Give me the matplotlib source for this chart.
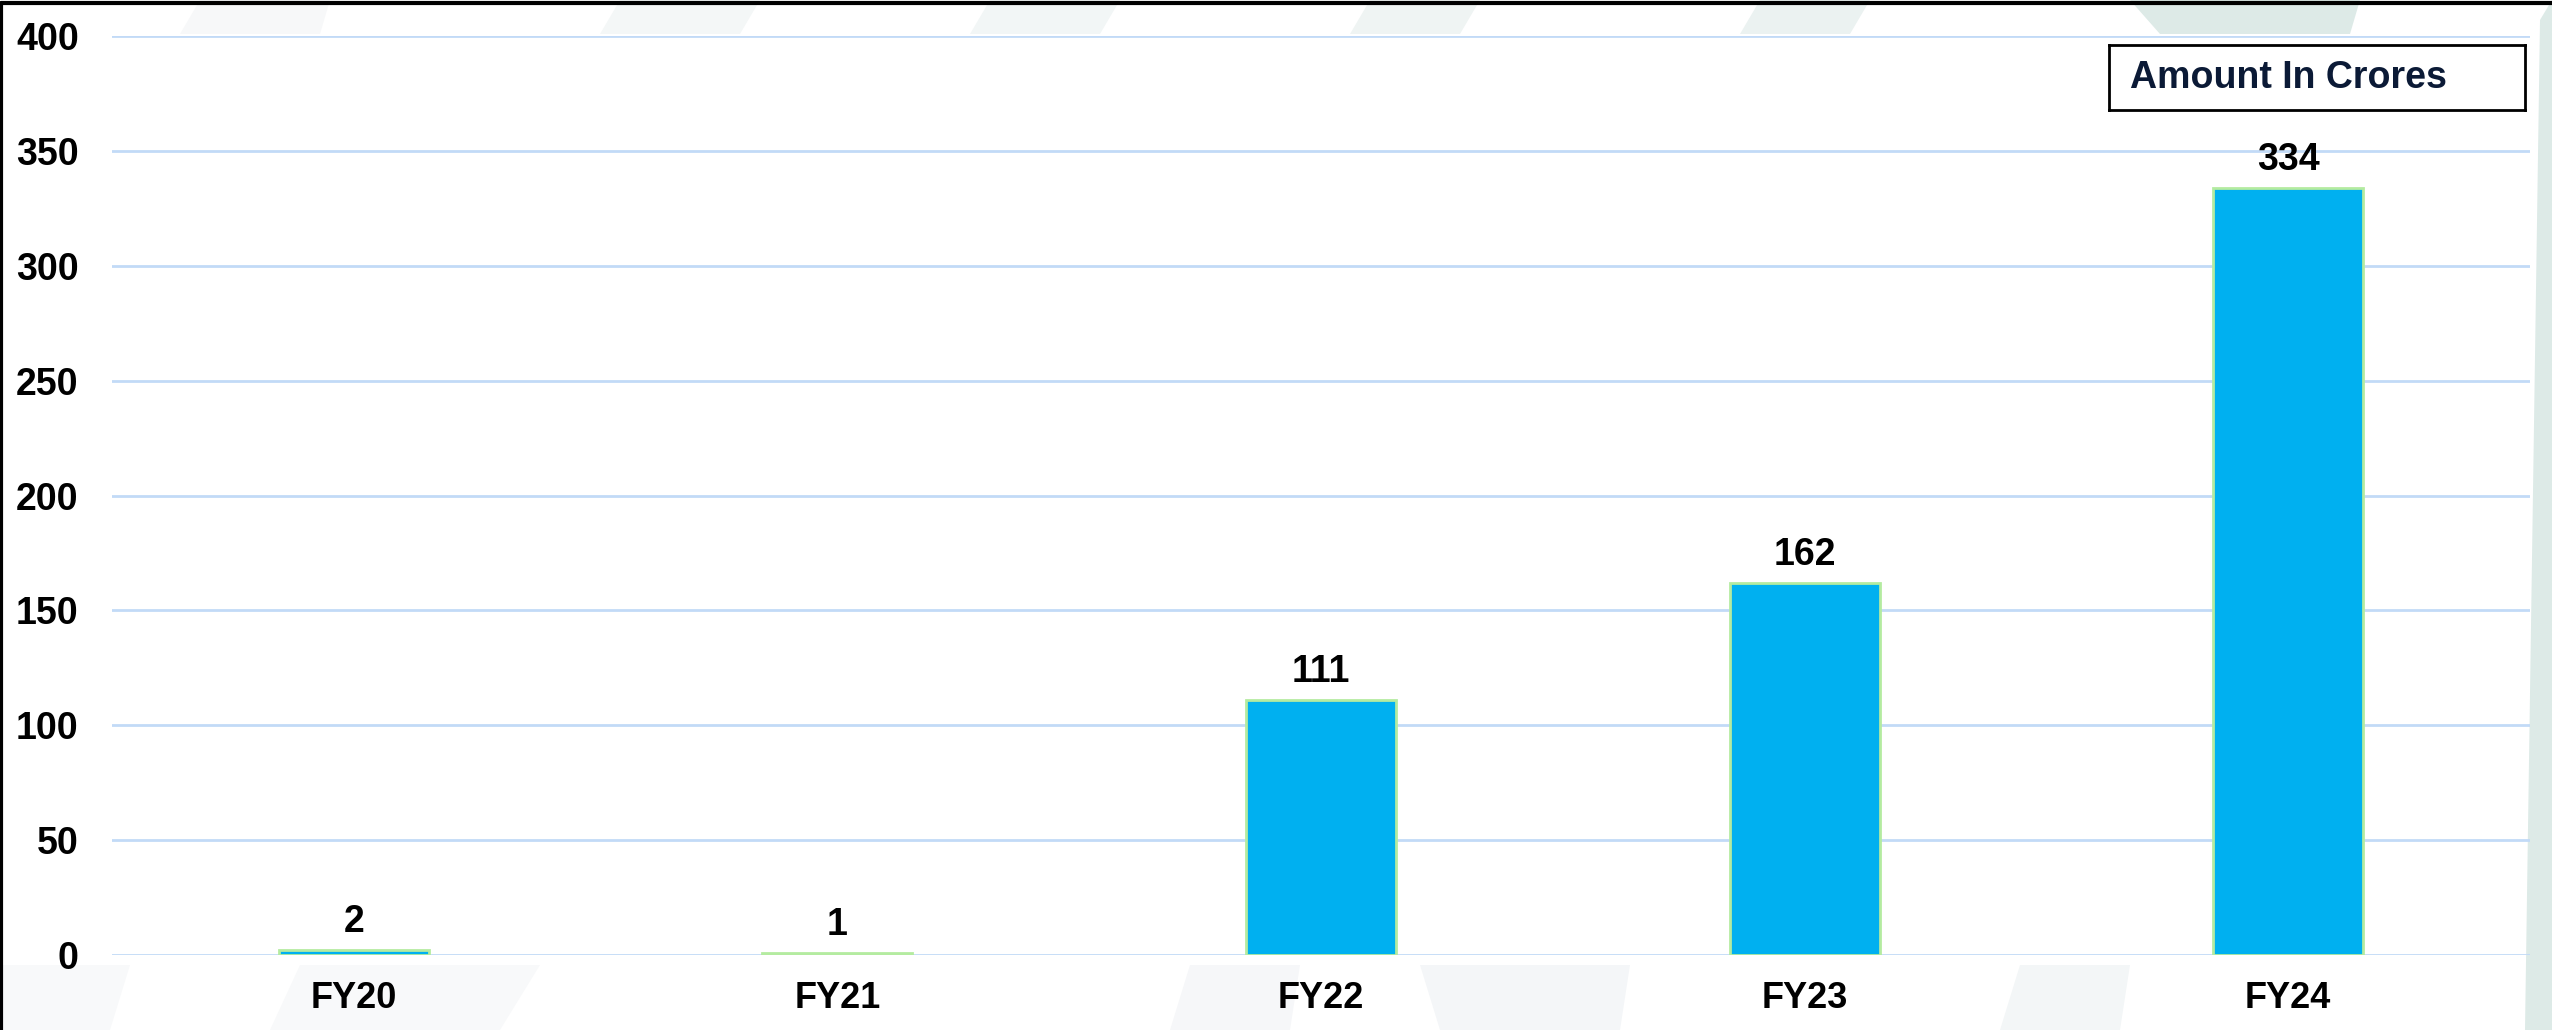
import numpy as np
import matplotlib.pyplot as plt
from matplotlib.patches import Polygon

# Daten
years = ['FY20', 'FY21', 'FY22', 'FY23', 'FY24']
amounts = [2, 1, 111, 162, 334]
yticks = [0, 50, 100, 150, 200, 250, 300, 350, 400]

plt.rcParams['font.family'] = ['Liberation Sans', 'DejaVu Sans']
plt.rcParams['font.weight'] = 'bold'

fig = plt.figure(figsize=(25.52, 10.30), dpi=100)

# dezente Hintergrundformen
bg = fig.add_axes([0, 0, 1, 1], zorder=-5)
bg.set_xlim(0, 2552)
bg.set_ylim(1030, 0)
bg.axis('off')
shapes = [
    ([(200, 0), (330, 0), (320, 34), (180, 34)], '#F7F8F9'),
    ([(620, 0), (760, 0), (740, 34), (600, 34)], '#F4F7F7'),
    ([(990, 0), (1120, 0), (1100, 34), (970, 34)], '#F2F6F6'),
    ([(1370, 0), (1480, 0), (1460, 34), (1350, 34)], '#EFF4F3'),
    ([(1760, 0), (1870, 0), (1850, 34), (1740, 34)], '#EBF2F1'),
    ([(2130, 0), (2360, 0), (2350, 34), (2160, 34)], '#DDEAE7'),
    ([(2540, 20), (2552, 0), (2552, 1030), (2525, 1030)], '#DDEAE7'),
    ([(0, 965), (130, 965), (110, 1030), (0, 1030)], '#F8F9FA'),
    ([(300, 965), (540, 965), (500, 1030), (270, 1030)], '#F8F9FA'),
    ([(1190, 965), (1300, 965), (1290, 1030), (1170, 1030)], '#F6F7F9'),
    ([(1420, 965), (1630, 965), (1620, 1030), (1440, 1030)], '#F4F6F8'),
    ([(2020, 965), (2130, 965), (2120, 1030), (2000, 1030)], '#F3F6F7'),
]
for pts, col in shapes:
    bg.add_patch(Polygon(pts, closed=True, facecolor=col, edgecolor='none'))
bg.plot([1, 1, 2552], [1030, 3, 3], color='black', lw=3)

ax = fig.add_axes([112/2552, 1-955/1030, (2530-112)/2552, (955-36)/1030])
ax.patch.set_alpha(0)
x = np.arange(len(years))
ax.bar(x, amounts, width=0.31, color='#00B0F0', edgecolor='#B4EBA0', linewidth=2, zorder=3)

for xi, v in zip(x, amounts):
    ax.annotate(str(v), (xi, v), xytext=(0, 13), textcoords='offset points',
                ha='center', va='baseline', fontsize=27, fontweight='bold', color='black')

ax.set_xlim(-0.5, len(years) - 0.5)
ax.set_ylim(0, 400)
ax.set_yticks(yticks)
ax.set_xticks(x)
ax.set_xticklabels(years)
ax.tick_params(axis='x', length=0, pad=19, labelsize=26)
ax.tick_params(axis='y', length=0, pad=24, labelsize=27)
ax.grid(axis='y', color='#C2DAF7', lw=2, zorder=0)
for s in ax.spines.values():
    s.set_visible(False)

# Legendenkasten
box = fig.add_axes([2109/2552, 1-110/1030, 416/2552, 65/1030])
box.set_xticks([])
box.set_yticks([])
for s in box.spines.values():
    s.set_linewidth(2)
    s.set_color('black')
box.text(0.05, 0.5, 'Amount In Crores', ha='left', va='center', fontsize=27,
         fontweight='bold', color='#0B1A36', transform=box.transAxes)

fig.savefig('out.png', dpi=100)
